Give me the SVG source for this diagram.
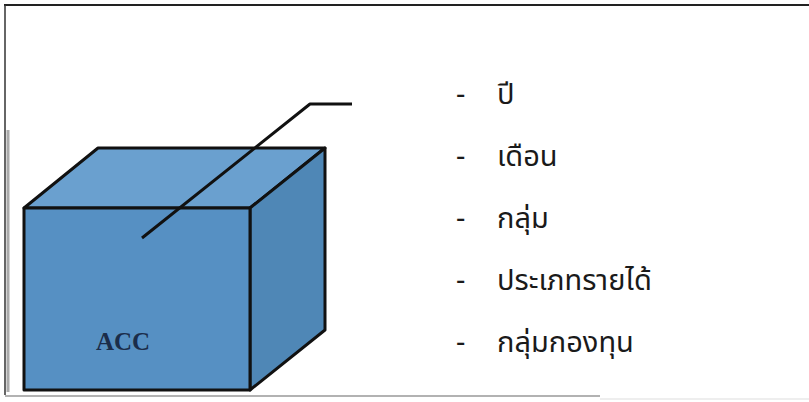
<svg xmlns="http://www.w3.org/2000/svg" width="809" height="402" viewBox="0 0 809 402">
<style>
.edge{stroke:#111;stroke-width:3;stroke-linejoin:round}
.item{font-family:"Noto Sans Thai","Noto Sans","DejaVu Sans",sans-serif;font-size:29px;fill:#1a1a1a}
.acc{font-family:"Liberation Serif",serif;font-weight:bold;font-size:25px;fill:#1b2d4a}
</style>
<rect width="809" height="402" fill="#ffffff"/>
<g id="frame">
<line x1="4" y1="5" x2="809" y2="5" stroke="#222" stroke-width="2"/>
<line x1="5" y1="5" x2="5" y2="395" stroke="#333" stroke-width="1.5"/>
<line x1="8" y1="130" x2="8" y2="392" stroke="#aaa" stroke-width="3"/>
<line x1="5" y1="396" x2="600" y2="396" stroke="#999" stroke-width="1.5"/>
<line x1="600" y1="399" x2="809" y2="399" stroke="#ddd" stroke-width="1"/>
</g>
<g id="cube">
<polygon points="24,208 98,148 325,148 250,208" style="fill:#6aa0cf" class="edge"/>
<polygon points="250,208 325,148 325,330 250,390" style="fill:#4f87b6" class="edge"/>
<rect x="24" y="208" width="226" height="182" style="fill:#5690c3" class="edge"/>
<text class="acc" x="96" y="350">ACC</text>
</g>
<g id="connectors">
<polyline points="142,238 310,104 352,104" class="edge" style="fill:none"/>
</g>
<g id="list">
<text class="item" x="456" y="104">-</text><text class="item" x="497" y="104">ปี</text>
<text class="item" x="456" y="166">-</text><text class="item" x="497" y="166">เดือน</text>
<text class="item" x="456" y="228">-</text><text class="item" x="497" y="228">กลุ่ม</text>
<text class="item" x="456" y="290">-</text><text class="item" x="497" y="290">ประเภทรายได้</text>
<text class="item" x="456" y="352">-</text><text class="item" x="497" y="352">กลุ่มกองทุน</text>
</g>
</svg>
